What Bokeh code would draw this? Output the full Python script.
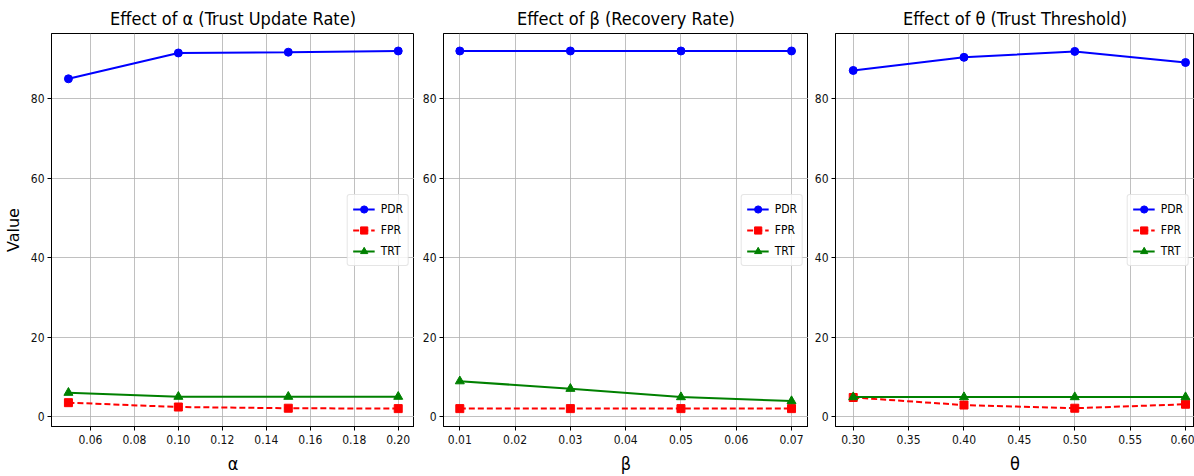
from bokeh.plotting import figure
from bokeh.layouts import row
from bokeh.models import FixedTicker, NumeralTickFormatter, Legend, LegendItem, Range1d
from bokeh.embed import file_html
from bokeh.resources import INLINE

# ---- data ----
alpha_vals = [0.05, 0.10, 0.15, 0.20]
alpha_pdr = [85.0, 91.5, 91.7, 92.0]
alpha_fpr = [3.5, 2.4, 2.1, 2.0]
alpha_trt = [6.0, 5.0, 5.0, 5.0]

beta_vals = [0.01, 0.03, 0.05, 0.07]
beta_pdr = [92.0, 92.0, 92.0, 92.0]
beta_fpr = [2.0, 2.0, 2.0, 2.0]
beta_trt = [8.9, 7.0, 4.9, 3.9]

theta_vals = [0.30, 0.40, 0.50, 0.60]
theta_pdr = [87.1, 90.4, 91.9, 89.1]
theta_fpr = [4.8, 2.9, 2.1, 3.1]
theta_trt = [4.9, 4.9, 4.9, 4.9]

titles = ["Effect of α (Trust Update Rate)", "Effect of β (Recovery Rate)", "Effect of θ (Trust Threshold)"]
xlabels = ["α", "β", "θ"]
y_ticks = [0, 20, 40, 60, 80]
alpha_ticks = [0.06, 0.08, 0.10, 0.12, 0.14, 0.16, 0.18, 0.20]
beta_ticks = [0.01, 0.02, 0.03, 0.04, 0.05, 0.06, 0.07]
theta_ticks = [0.30, 0.35, 0.40, 0.45, 0.50, 0.55, 0.60]

FONT = "DejaVu Sans Condensed"


def make_panel(xv, pdr, fpr, trt, title, xlabel, xticks, xr, width, mbl, frame_w, ylabel=None):
    p = figure(width=width, height=476, output_backend="svg", toolbar_location=None,
               x_range=Range1d(*xr), y_range=Range1d(-2.5, 96.4),
               min_border_left=mbl, min_border_right=width - mbl - frame_w,
               min_border_top=31, min_border_bottom=48)
    p.title.text = title
    p.title.align = "center"
    p.title.text_font = FONT
    p.title.text_font_size = "18px"
    p.title.text_font_style = "normal"
    p.title.text_color = "#000000"

    l1 = p.line(xv, pdr, line_color="#0000ff", line_width=2)
    s1 = p.scatter(xv, pdr, marker="circle", size=8, fill_color="#0000ff", line_color="#0000ff")
    l2 = p.line(xv, fpr, line_color="#ff0000", line_width=2, line_dash="6 3")
    s2 = p.scatter(xv, fpr, marker="square", size=8, fill_color="#ff0000", line_color="#ff0000")
    l3 = p.line(xv, trt, line_color="#008000", line_width=2)
    s3 = p.scatter(xv, trt, marker="triangle", size=9, fill_color="#008000", line_color="#008000")

    legend = Legend(items=[LegendItem(label="PDR", renderers=[l1, s1]),
                           LegendItem(label="FPR", renderers=[l2, s2]),
                           LegendItem(label="TRT", renderers=[l3, s3])],
                    location="center_right")
    legend.margin = 5
    legend.padding = 5
    legend.spacing = 3
    legend.label_height = 18
    legend.glyph_height = 18
    legend.glyph_width = 22
    legend.label_standoff = 6
    legend.label_text_font = FONT
    legend.label_text_font_size = "12px"
    legend.label_text_color = "#000000"
    legend.border_line_color = "#cccccc"
    legend.border_line_width = 1
    legend.border_radius = 3
    legend.background_fill_alpha = 0.8
    p.add_layout(legend, "center")

    for ax in (p.xaxis[0], p.yaxis[0]):
        ax.major_tick_in = 0
        ax.major_tick_out = 4
        ax.minor_tick_line_color = None
        ax.major_label_text_font = FONT
        ax.major_label_text_font_size = "12px"
        ax.major_label_text_color = "#111111"
        ax.axis_line_color = "#000000"
        ax.major_tick_line_color = "#000000"
        ax.axis_label_text_font_style = "normal"
        ax.axis_label_text_color = "#000000"

    p.xaxis.ticker = FixedTicker(ticks=xticks)
    p.xaxis.formatter = NumeralTickFormatter(format="0.00")
    p.yaxis.ticker = FixedTicker(ticks=y_ticks)
    p.xaxis.axis_label = xlabel
    p.xaxis.axis_label_text_font = FONT
    p.xaxis.axis_label_text_font_size = "18px"
    p.xaxis.axis_label_standoff = 6
    p.xaxis.major_label_standoff = 4
    p.yaxis.major_label_standoff = 3
    if ylabel:
        p.yaxis.axis_label = ylabel
        p.yaxis.axis_label_text_font = "DejaVu Sans"
        p.yaxis.axis_label_text_font_size = "16px"
        p.yaxis.axis_label_standoff = 5

    p.xgrid.grid_line_color = "#b0b0b0"
    p.ygrid.grid_line_color = "#b0b0b0"
    p.xgrid.grid_line_alpha = 0.8
    p.ygrid.grid_line_alpha = 0.8
    p.outline_line_color = "#000000"
    p.outline_line_alpha = 1
    p.background_fill_color = "white"
    return p


p1 = make_panel(alpha_vals, alpha_pdr, alpha_fpr, alpha_trt, titles[0], xlabels[0], alpha_ticks,
                (0.0423, 0.2074), 414, 49, 365, ylabel="Value")
p2 = make_panel(beta_vals, beta_pdr, beta_fpr, beta_trt, titles[1], xlabels[1], beta_ticks,
                (0.00705, 0.07307), 394, 29, 365)
p3 = make_panel(theta_vals, theta_pdr, theta_fpr, theta_trt, titles[2], xlabels[2], theta_ticks,
                (0.2840, 0.6081), 386, 27, 359)

layout = row(p1, p2, p3, spacing=0)
open("out.html", "w").write(file_html(layout, INLINE))
